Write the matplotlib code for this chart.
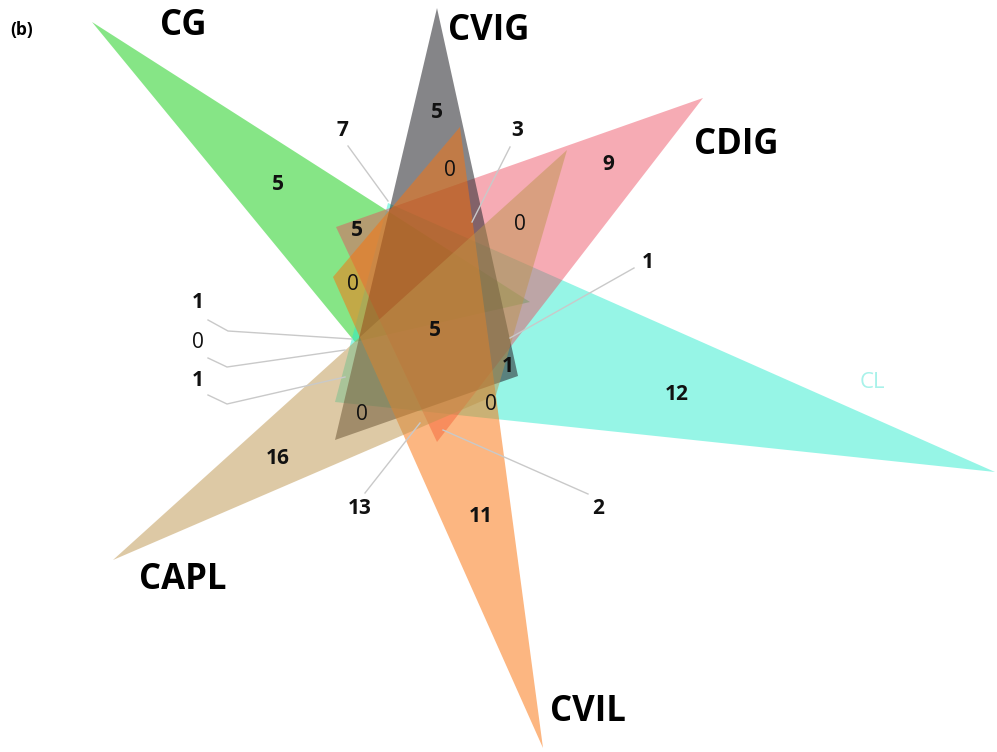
import matplotlib
matplotlib.use("Agg")
import matplotlib.pyplot as plt
from matplotlib.patches import Polygon

plt.rcParams['font.family'] = ['Open Sans', 'DejaVu Sans']

# ---- data -------------------------------------------------------------
set_names = ["CG", "CVIG", "CDIG", "CL", "CVIL", "CAPL"]
region_counts = [5, 5, 7, 3, 0, 9, 0, 5, 0, 1, 5, 1, 0, 1, 1, 0, 12, 0, 16, 13, 11, 2]

# ---- layout (pixel space, y grows downward) --------------------------
triangles = {
    "CG":   [(92, 22), (355, 342), (530, 302)],
    "CL":   [(995, 472), (335, 402), (388, 203)],
    "CDIG": [(703, 98), (336, 227), (437, 442)],
    "CVIG": [(437, 8), (335, 440), (518, 376)],
    "CAPL": [(113, 560), (567, 150), (496, 395)],
    "CVIL": [(543, 748), (333, 277), (460, 127)],
}
draw_order = ["CG", "CL", "CDIG", "CVIG", "CVIL", "CAPL"]
fills = {
    "CG":   ((0.06, 0.80, 0.06), 0.50),
    "CL":   ((0.14, 0.92, 0.80), 0.48),
    "CDIG": ((0.93, 0.27, 0.35), 0.45),
    "CVIG": ((0.18, 0.18, 0.20), 0.58),
    "CAPL": ((0.74, 0.58, 0.30), 0.50),
    "CVIL": ((0.98, 0.45, 0.05), 0.52),
}
name_style = {
    "CG":   dict(xy=(183, 26), color="black", weight="bold", size=25),
    "CVIG": dict(xy=(489, 31), color="black", weight="bold", size=25),
    "CDIG": dict(xy=(736, 145), color="black", weight="bold", size=25),
    "CL":   dict(xy=(872, 383), color="#a8f2ea", weight="normal", size=16),
    "CVIL": dict(xy=(588, 712), color="black", weight="bold", size=25),
    "CAPL": dict(xy=(183, 580), color="black", weight="bold", size=25),
}
label_pos = [(278, 185), (437, 112), (342, 130), (517, 130), (450, 170),
             (608, 165), (520, 225), (357, 230), (353, 284), (648, 262),
             (435, 330), (198, 302), (198, 342), (198, 380), (508, 367),
             (491, 405), (677, 395), (362, 415), (278, 458), (360, 508),
             (481, 517), (598, 508)]
# leader lines from small labels to their regions
leaders = [
    [(348, 146), (388, 201)],
    [(510, 147), (472, 222)],
    [(634, 268), (510, 338)],
    [(208, 320), (228, 331), (352, 339)],
    [(208, 358), (227, 367), (345, 350)],
    [(208, 395), (227, 404), (345, 377)],
    [(365, 493), (420, 423)],
    [(588, 494), (443, 430)],
]

fig = plt.figure(figsize=(9.97, 7.52), dpi=100)
ax = fig.add_axes([0, 0, 1, 1])
ax.set_xlim(0, 997)
ax.set_ylim(752, 0)
ax.axis("off")

for name in draw_order:
    col, a = fills[name]
    ax.add_patch(Polygon(triangles[name], closed=True, facecolor=col,
                         alpha=a, edgecolor="none"))

for pts in leaders:
    xs, ys = zip(*pts)
    ax.plot(xs, ys, color="#c9c9c9", lw=1.0, zorder=3)

for n, (x, y) in zip(region_counts, label_pos):
    ax.text(x, y, str(n), ha="center", va="center", fontsize=15,
            fontweight="bold" if n else "normal", color="#111111", zorder=4)

for name in set_names:
    st = name_style[name]
    ax.text(*st["xy"], name, ha="center", va="center", fontsize=st["size"],
            fontweight=st["weight"], color=st["color"], zorder=4)

ax.text(22, 30, "(b)", ha="center", va="center", fontsize=12.5,
        fontweight="bold", color="black")

fig.savefig("out.png", dpi=100)
